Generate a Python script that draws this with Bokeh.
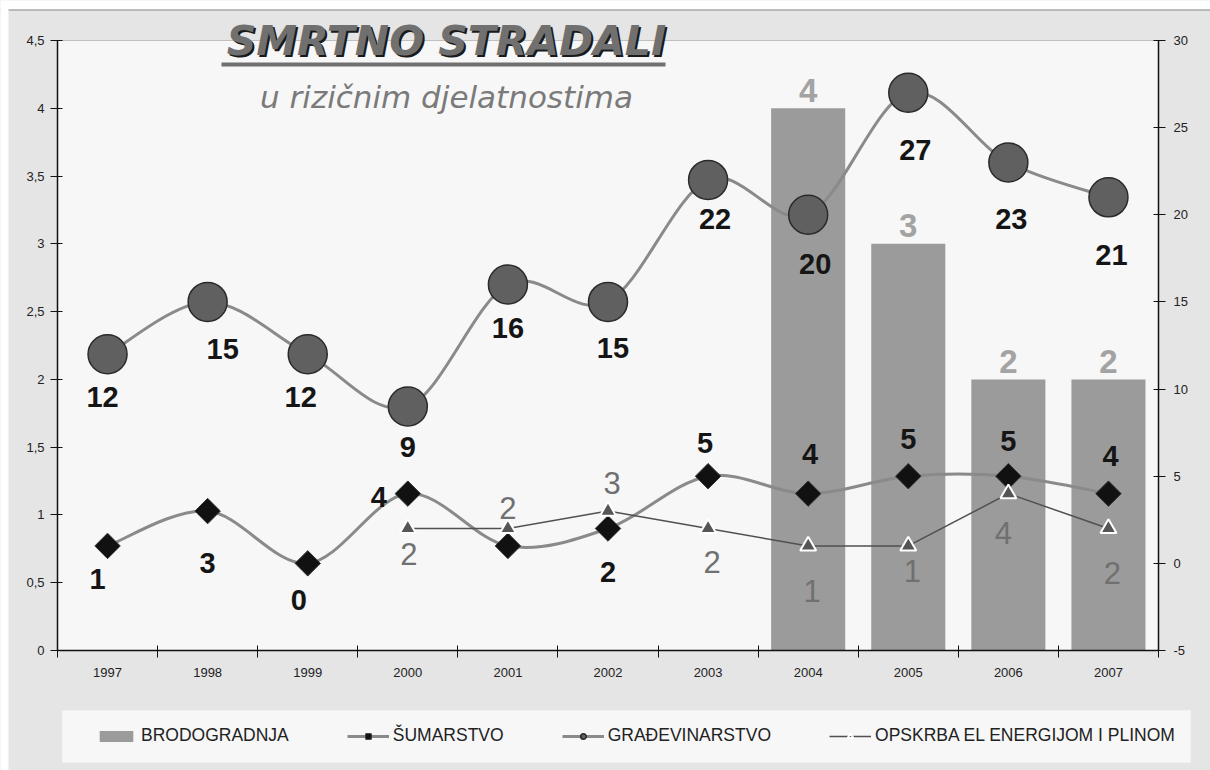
import numpy as np
from bokeh.plotting import figure
from bokeh.models import (ColumnDataSource, LinearAxis, Range1d, FixedTicker,
                          CustomJSTickFormatter, Legend, LegendItem, Label, BoxAnnotation)
from bokeh.core.properties import value
from bokeh.embed import file_html
from bokeh.resources import INLINE

# ---------------- data ----------------
years = [1997, 1998, 1999, 2000, 2001, 2002, 2003, 2004, 2005, 2006, 2007]
brodogradnja_years = [2004, 2005, 2006, 2007]
brodogradnja = [4, 3, 2, 2]
sumarstvo = [1, 3, 0, 4, 1, 2, 5, 4, 5, 5, 4]
gradjevinarstvo = [12, 15, 12, 9, 16, 15, 22, 20, 27, 23, 21]
opskrba_years = [2000, 2001, 2002, 2003, 2004, 2005, 2006, 2007]
opskrba = [2, 2, 3, 2, 1, 1, 4, 2]
left_ticks = [0, 0.5, 1, 1.5, 2, 2.5, 3, 3.5, 4, 4.5]
right_ticks = [-5, 0, 5, 10, 15, 20, 25, 30]
series_names = ["BRODOGRADNJA", "ŠUMARSTVO", "GRAĐEVINARSTVO", "OPSKRBA EL ENERGIJOM I PLINOM"]
title_text = "SMRTNO STRADALI"
subtitle_text = "u rizičnim djelatnostima"

# ---------------- label placement (pixels, style only) ----------------
grad_dx = [-5, 15, -7, 0, 0, 5, 7, 7, 7, 3, 3]
grad_dy = [43, 47, 43, 40, 43, 46, 39, 49, 57, 56, 58]
sum_dx = [-10, 0, -9, -29, 0, 0, -3, 2, 0, 0, 2]
sum_dy = [33, 52, 37, 3, 0, 43, -33, -40, -37, -35, -38]
sum_show = [True, True, True, True, False, True, True, True, True, True, True]
op_dx = [1, 0, 4, 4, 4, 4, -5, 4]
op_dy = [25, -21, -28, 33, 45, 25, 39, 44]

# ---------------- layout (pixels) ----------------
W, H = 1210, 770
PL, PR, PT, PB = 57, 1158, 40, 650          # plot area edges on the canvas
X0, X1 = years[0] - 0.5, years[-1] + 0.5
L0, L1 = left_ticks[0], left_ticks[-1]
R0, R1 = right_ticks[0], right_ticks[-1]
xs = (X1 - X0) / (PR - PL)
ls = (L1 - L0) / (PB - PT)
rs = (R1 - R0) / (PB - PT)

FONT = value("Liberation Sans")
BG = "#e5e5e5"


def smooth(xv, yv):
    n = len(xv)
    P = list(zip(xv, yv))
    x0, y0, x1, y1, cx0, cy0, cx1, cy1 = [], [], [], [], [], [], [], []
    for i in range(n - 1):
        pm = P[max(i - 1, 0)]
        pa = P[i]
        pb = P[i + 1]
        pn = P[min(i + 2, n - 1)]
        x0.append(pa[0]); y0.append(pa[1]); x1.append(pb[0]); y1.append(pb[1])
        cx0.append(pa[0] + (pb[0] - pm[0]) / 6); cy0.append(pa[1] + (pb[1] - pm[1]) / 6)
        cx1.append(pb[0] - (pn[0] - pa[0]) / 6); cy1.append(pb[1] - (pn[1] - pa[1]) / 6)
    return dict(x0=x0, y0=y0, x1=x1, y1=y1, cx0=cx0, cy0=cy0, cx1=cx1, cy1=cy1)


p = figure(width=W, height=H, output_backend="svg", toolbar_location=None, title=None,
           x_range=Range1d(X0 - PL * xs, X1 + (W - PR) * xs),
           y_range=Range1d(L0 - (H - PB) * ls, L1 + PT * ls),
           min_border=0, min_border_left=0, min_border_right=0, min_border_top=0, min_border_bottom=0,
           background_fill_color=BG, border_fill_color=BG)
p.extra_y_ranges = {"right": Range1d(R0 - (H - PB) * rs, R1 + PT * rs)}
p.grid.visible = False
p.outline_line_color = None

SCR = dict(left_units="screen", right_units="screen", top_units="screen", bottom_units="screen")
# page decorations
p.add_layout(BoxAnnotation(left=0, right=W, top=H, bottom=H - 9, fill_color="#ffffff", fill_alpha=1,
                           line_color=None, level="underlay", **SCR))
p.add_layout(BoxAnnotation(left=0, right=W, top=H - 9, bottom=H - 10, fill_color="#8a8a8a", fill_alpha=1,
                           line_color=None, level="underlay", **SCR))
p.add_layout(BoxAnnotation(left=0, right=8, top=H, bottom=0, fill_color="#ffffff", fill_alpha=1,
                           line_color=None, level="underlay", **SCR))
# plot area
p.add_layout(BoxAnnotation(left=X0, right=X1, bottom=L0, top=L1, fill_color="#f7f7f7", fill_alpha=1,
                           line_color="#555555", line_width=1, level="underlay"))

# axes
xa = p.xaxis[0]
xa.fixed_location = L0
xa.bounds = (X0, X1)
xa.ticker = FixedTicker(ticks=years, minor_ticks=[y - 0.5 for y in years] + [X1])
xa.major_tick_in = 0
xa.major_tick_out = 0
xa.minor_tick_in = 5
xa.minor_tick_out = 7
xa.minor_tick_line_color = "#111111"
xa.major_label_standoff = 10
xa.major_label_text_font = "Liberation Sans"
xa.major_label_text_font_size = "13px"
xa.major_label_text_color = "#222222"
xa.axis_line_color = "#111111"
xa.axis_line_width = 1.5

ya = p.yaxis[0]
ya.fixed_location = X0
ya.bounds = (L0, L1)
ya.ticker = FixedTicker(ticks=left_ticks)
ya.formatter = CustomJSTickFormatter(code="return tick.toString().replace('.', ',')")
ya.major_tick_in = 5
ya.major_tick_out = 7
ya.minor_tick_line_color = None
ya.major_label_standoff = 6
ya.major_label_text_font = "Liberation Sans"
ya.major_label_text_font_size = "13px"
ya.major_label_text_color = "#222222"
ya.axis_line_color = "#111111"
ya.axis_line_width = 1.5
ya.major_tick_line_color = "#111111"

ra = LinearAxis(y_range_name="right", ticker=FixedTicker(ticks=right_ticks),
                formatter=CustomJSTickFormatter(code="return tick.toString()"))
ra.fixed_location = X1
ra.bounds = (R0, R1)
ra.major_tick_in = 5
ra.major_tick_out = 7
ra.minor_tick_line_color = None
ra.major_label_standoff = 8
ra.major_label_text_font = "Liberation Sans"
ra.major_label_text_font_size = "13px"
ra.major_label_text_color = "#222222"
ra.axis_line_color = "#111111"
ra.axis_line_width = 1.5
ra.major_tick_line_color = "#111111"
p.add_layout(ra, "right")

# sources
bsrc = ColumnDataSource(dict(x=brodogradnja_years, top=brodogradnja, t=[str(v) for v in brodogradnja]))
gsrc = ColumnDataSource(dict(x=years, y=gradjevinarstvo, t=[str(v) for v in gradjevinarstvo],
                             dx=grad_dx, dy=grad_dy))
ssrc = ColumnDataSource(dict(x=years, y=sumarstvo,
                             t=[str(v) if s else "" for v, s in zip(sumarstvo, sum_show)],
                             dx=sum_dx, dy=sum_dy))
osrc = ColumnDataSource(dict(x=opskrba_years, y=opskrba, t=[str(v) for v in opskrba],
                             dx=op_dx, dy=op_dy))
BZ = dict(x0="x0", y0="y0", x1="x1", y1="y1", cx0="cx0", cy0="cy0", cx1="cx1", cy1="cy1")

# bars
r_bar = p.vbar(x="x", top="top", width=0.74, bottom=0, source=bsrc, fill_color="#9b9b9b", line_color=None)
p.text(x="x", y="top", text="t", source=bsrc, y_offset=-18,
       text_font=FONT, text_font_style="bold", text_font_size="33px",
       text_color="#a3a3a3", text_align="center", text_baseline="middle")

# lines
g_line = p.bezier(source=ColumnDataSource(smooth(years, gradjevinarstvo)), y_range_name="right",
                  line_color="#8a8a8a", line_width=3, **BZ)
g_pts = p.scatter(x="x", y="y", source=gsrc, size=39, y_range_name="right", marker="circle",
                  fill_color="#606060", line_color="#2a2a2a", line_width=1.5)
s_line = p.bezier(source=ColumnDataSource(smooth(years, sumarstvo)), y_range_name="right",
                  line_color="#8a8a8a", line_width=3, **BZ)
s_pts = p.scatter(x="x", y="y", source=ssrc, size=18, y_range_name="right", marker="square",
                  angle=np.pi / 4, fill_color="#111111", line_color="#333333", line_width=1)
o_line = p.line(x="x", y="y", source=osrc, y_range_name="right", line_color="#505050", line_width=1.5)
o_pts = p.scatter(x="x", y="y", source=osrc, size=16, y_range_name="right", marker="triangle",
                  fill_color="#555555", line_color="#ffffff", line_width=2)

# data labels
p.text(x="x", y="y", text="t", source=gsrc, x_offset="dx", y_offset="dy",
       text_font=FONT, text_font_style="bold", text_font_size="29px",
       text_color="#151515", text_align="center", text_baseline="middle", y_range_name="right")
p.text(x="x", y="y", text="t", source=ssrc, x_offset="dx", y_offset="dy",
       text_font=FONT, text_font_style="bold", text_font_size="29px",
       text_color="#151515", text_align="center", text_baseline="middle", y_range_name="right")
p.text(x="x", y="y", text="t", source=osrc, x_offset="dx", y_offset="dy",
       text_font=FONT, text_font_size="31px",
       text_color="#707070", text_align="center", text_baseline="middle", y_range_name="right")

# title
p.add_layout(Label(x=448, y=H - 42, x_units="screen", y_units="screen", text=title_text,
                   text_font="DejaVu Sans", text_font_style="bold italic", text_font_size="41px",
                   text_color="#1a1a1a", text_align="center", text_baseline="middle"))
p.add_layout(Label(x=446, y=H - 40, x_units="screen", y_units="screen", text=title_text,
                   text_font="DejaVu Sans", text_font_style="bold italic", text_font_size="41px",
                   text_color="#707070", text_align="center", text_baseline="middle"))
p.add_layout(BoxAnnotation(left=221, right=665, top=H - 62, bottom=H - 66, fill_color="#707070",
                           fill_alpha=1, line_color=None, **SCR))
p.add_layout(Label(x=446, y=H - 96, x_units="screen", y_units="screen", text=subtitle_text,
                   text_font="DejaVu Sans", text_font_style="italic", text_font_size="31px",
                   text_color="#7a7a7a", text_align="center", text_baseline="middle"))

# legend box + legend
p.add_layout(BoxAnnotation(left=62, right=1190, top=H - 710, bottom=H - 762, fill_color="#f7f7f7",
                           fill_alpha=1, line_color="#fbfbfb", **SCR))
legend = Legend(items=[
    LegendItem(label=series_names[0], renderers=[r_bar]),
    LegendItem(label=series_names[1], renderers=[s_line, s_pts]),
    LegendItem(label=series_names[2], renderers=[g_line, g_pts]),
    LegendItem(label=series_names[3], renderers=[o_line, o_pts]),
], location=(95, H - 746), orientation="horizontal")
legend.background_fill_alpha = 0
legend.border_line_alpha = 0
legend.label_text_font = "Liberation Sans"
legend.label_text_font_size = "17.5px"
legend.label_text_color = "#222222"
legend.glyph_width = 42
legend.glyph_height = 14
legend.label_standoff = 4
legend.spacing = 58
legend.padding = 0
legend.margin = 0
legend.click_policy = "none"
p.add_layout(legend, "center")

open("out.html", "w").write(file_html(p, INLINE))
